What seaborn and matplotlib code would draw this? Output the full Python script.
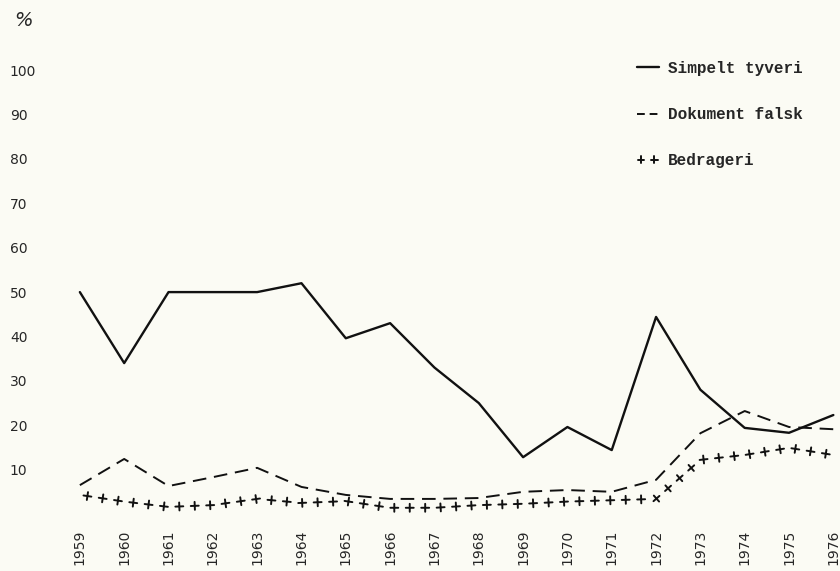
import matplotlib
matplotlib.use("Agg")
import matplotlib.pyplot as plt
import matplotlib.patheffects as pe
import seaborn as sns
import pandas as pd

years = list(range(1959, 1977))
simpelt_tyveri = [50, 34, 50, 50, 50, 52, 39.6, 43, 33, 25, 12.8, 19.6, 14.4, 44.4, 28, 19.4, 18.3, 22.3]
dokument_falsk = [6.5, 12.4, 6.3, 8.3, 10.4, 6.1, 4.3, 3.4, 3.4, 3.6, 5.0, 5.4, 5.0, 7.7, 18.2, 23.2, 19.6, 19.1]
bedrageri = [4.3, 2.8, 1.6, 2.0, 3.4, 2.5, 2.9, 1.4, 1.4, 2.0, 2.3, 2.8, 3.1, 3.4, 12.2, 13.3, 14.9, 13.3]
y_ticks = [10, 20, 30, 40, 50, 60, 70, 80, 90, 100]

df = pd.DataFrame({"aar": years, "simpelt": simpelt_tyveri,
                   "falsk": dokument_falsk, "bedrageri": bedrageri})

sns.set_theme(style="white")
bg = "#fbfbf4"
plt.rcParams["font.family"] = ["DejaVu Sans"]

fig = plt.figure(figsize=(8.4, 5.71), dpi=100, facecolor=bg)
ax = fig.add_axes([71 / 840, 57 / 571, (840 - 71) / 840, (571 - 57 - 48) / 571])
ax.set_facecolor(bg)


def plus_effects(spacing, arm):
    return [pe.TickedStroke(spacing=spacing, angle=a, length=arm, linewidth=1.4)
            for a in (0, 90, 180, -90)]


sns.lineplot(data=df, x="aar", y="simpelt", ax=ax, color="#111111",
             linewidth=1.7, label="Simpelt tyveri", clip_on=False)
sns.lineplot(data=df, x="aar", y="falsk", ax=ax, color="#111111",
             linewidth=1.4, linestyle=(0, (7, 4)), label="Dokument falsk", clip_on=False)
sns.lineplot(data=df, x="aar", y="bedrageri", ax=ax, color="#111111",
             linewidth=1.3, label="Bedrageri", clip_on=False)
ax.lines[2].set_path_effects(plus_effects(11, 0.26))

ax.set_xlim(1958.8, 1976.15)
ax.set_ylim(0, 105)
ax.set_xticks(years)
ax.set_xticklabels([str(y) for y in years], rotation=90, fontsize=10)
ax.set_yticks(y_ticks)
ax.set_yticklabels([str(v) for v in y_ticks], fontsize=10)
for lab in ax.get_yticklabels():
    lab.set_horizontalalignment("left")
ax.tick_params(axis="y", length=0, pad=44)
ax.tick_params(axis="x", length=0, pad=11)
ax.set_xlabel("")
ax.set_ylabel("")
for s in ax.spines.values():
    s.set_visible(False)

fig.text(14 / 840, 1 - 20 / 571, "%", fontsize=14, style="italic", va="center")

leg = ax.legend(loc="upper left", bbox_to_anchor=(629 / 840, 1 - 53 / 571),
                bbox_transform=fig.transFigure, frameon=False,
                prop={"family": "Liberation Mono", "size": 11.5, "weight": "bold"},
                handlelength=1.35, handletextpad=0.6, labelspacing=1.95, borderpad=0)
leg.get_lines()[1].set_linestyle((0, (4, 2.5)))
leg.get_lines()[2].set_path_effects(plus_effects(6, 0.4))

fig.savefig("out.png", dpi=100, facecolor=bg)
